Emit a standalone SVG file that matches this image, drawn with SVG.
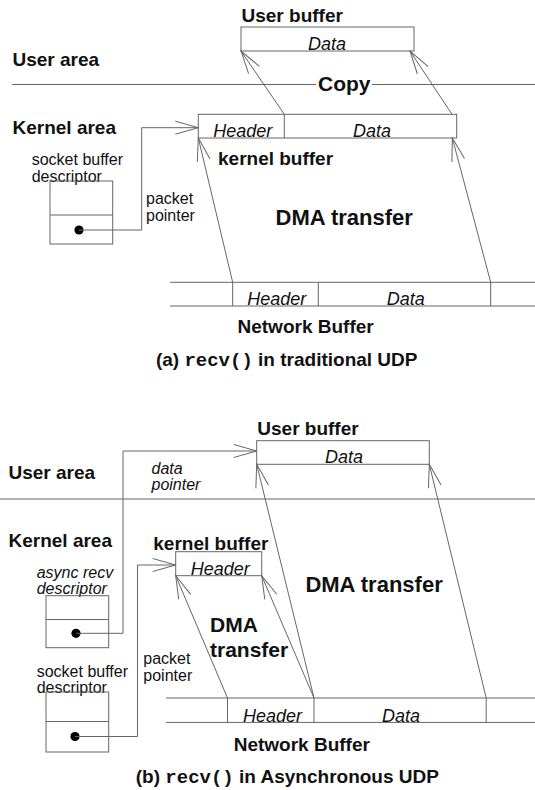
<svg xmlns="http://www.w3.org/2000/svg" width="535" height="790" viewBox="0 0 535 790">
  <style>
    .ln { fill: none; stroke: #666; stroke-width: 1; }
    .box { fill: none; stroke: #666; stroke-width: 1; }
    .area { font-family: "Liberation Sans", Arial, sans-serif; font-weight: bold; font-size: 19px; fill: #111; }
    .big { font-family: "Liberation Sans", Arial, sans-serif; font-weight: bold; font-size: 22px; fill: #111; }
    .fld { font-family: "Liberation Sans", Arial, sans-serif; font-style: italic; font-size: 18px; fill: #111; }
    .small { font-family: "Liberation Sans", Arial, sans-serif; font-size: 16px; fill: #111; }
    .smalli { font-family: "Liberation Sans", Arial, sans-serif; font-style: italic; font-size: 16px; fill: #111; }
    .cap { font-family: "Liberation Sans", Arial, sans-serif; font-weight: bold; font-size: 19px; fill: #111; }
    .mono { font-family: "Liberation Mono", "Courier New", monospace; font-weight: bold; }
    .dot { fill: #000; }
  </style>
  <defs>
    <marker id="open" markerUnits="userSpaceOnUse" markerWidth="30" markerHeight="20" viewBox="-25 -10 30 20" refX="0" refY="0" orient="auto" overflow="visible">
      <path d="M-23,-6.5 L0,0 L-23,6.5" fill="none" stroke="#666" stroke-width="1"/>
    </marker>
  </defs>
  <rect width="535" height="790" fill="#fff"/>

  <!-- (a) traditional UDP -->
  <g id="a-areas">
    <text class="area" x="12.5" y="66">User area</text>
    <text class="area" x="12.5" y="134">Kernel area</text>
    <path class="ln" d="M12,84.5 H316 M372,84.5 H535"/>
    <text class="big" x="318" y="91" style="font-size:21px">Copy</text>
  </g>
  <g id="a-user-buffer">
    <text class="area" x="241.5" y="21.5">User buffer</text>
    <rect class="box" x="241" y="27" width="173" height="24"/>
    <text class="fld" x="308" y="49.5">Data</text>
  </g>
  <g id="a-kernel-buffer">
    <rect class="box" x="198.3" y="114.3" width="258.4" height="23.7"/>
    <line class="ln" x1="284.3" y1="114.3" x2="284.3" y2="138"/>
    <text class="fld" x="213.3" y="136.5">Header</text>
    <text class="fld" x="353" y="136.5">Data</text>
    <text class="area" x="218" y="165">kernel buffer</text>
  </g>
  <g id="a-socket-desc">
    <text class="small" x="31.7" y="165">socket buffer</text>
    <text class="small" x="31.7" y="181.7">descriptor</text>
    <rect class="box" x="50" y="181" width="62.7" height="63"/>
    <line class="ln" x1="50" y1="215" x2="112.7" y2="215"/>
    <circle class="dot" cx="79" cy="230" r="4.6"/>
    <text class="small" x="146" y="204">packet</text>
    <text class="small" x="146" y="221">pointer</text>
  </g>
  <g id="a-network-buffer">
    <path class="ln" d="M170,282.3 H535 M170,306 H535 M232.7,282.3 V306 M318.3,282.3 V306 M490.7,282.3 V306"/>
    <text class="fld" x="247.3" y="305">Header</text>
    <text class="fld" x="386.7" y="304.5">Data</text>
    <text class="area" x="237.5" y="333">Network Buffer</text>
  </g>
  <text class="big" x="275.5" y="225">DMA transfer</text>
  <text class="cap" x="155.9" y="366">(a) <tspan class="mono">recv()</tspan> in traditional UDP</text>

  <!-- (b) asynchronous UDP -->
  <g id="b-areas">
    <text class="area" x="8.5" y="479">User area</text>
    <text class="area" x="8.5" y="546.5">Kernel area</text>
    <line class="ln" x1="0" y1="499" x2="535" y2="499"/>
  </g>
  <g id="b-user-buffer">
    <text class="area" x="257.3" y="435">User buffer</text>
    <rect class="box" x="256.7" y="440.7" width="172.6" height="23.6"/>
    <text class="fld" x="325" y="463">Data</text>
  </g>
  <g id="b-kernel-buffer">
    <text class="area" x="153.3" y="550">kernel buffer</text>
    <rect class="box" x="175.7" y="551.7" width="86" height="24"/>
    <text class="fld" x="190.7" y="575">Header</text>
  </g>
  <g id="b-async-desc">
    <text class="smalli" x="36.7" y="577.7">async recv</text>
    <text class="smalli" x="36.7" y="594.3">descriptor</text>
    <rect class="box" x="46" y="595.7" width="62.7" height="52"/>
    <line class="ln" x1="46" y1="619.5" x2="108.7" y2="619.5"/>
    <circle class="dot" cx="76" cy="633.3" r="4.6"/>
    <text class="smalli" x="151.5" y="474">data</text>
    <text class="smalli" x="151.5" y="490">pointer</text>
  </g>
  <g id="b-socket-desc">
    <text class="small" x="36.7" y="676.7">socket buffer</text>
    <text class="small" x="36.7" y="692.7">descriptor</text>
    <rect class="box" x="46" y="692" width="62.7" height="60"/>
    <line class="ln" x1="46" y1="721.5" x2="108.7" y2="721.5"/>
    <circle class="dot" cx="75" cy="736.5" r="4.6"/>
    <text class="small" x="143.3" y="664.3">packet</text>
    <text class="small" x="143.3" y="680.7">pointer</text>
  </g>
  <g id="b-network-buffer">
    <path class="ln" d="M166,698 H535 M166,722.4 H535 M227.5,698 V722.4 M314,698 V722.4 M486.2,698 V722.4"/>
    <text class="fld" x="243" y="721.5">Header</text>
    <text class="fld" x="382" y="721.5">Data</text>
    <text class="area" x="233.7" y="751">Network Buffer</text>
  </g>
  <text class="big" x="305.4" y="592">DMA transfer</text>
  <text class="big" x="210" y="632" style="font-size:21px">DMA</text>
  <text class="big" x="210" y="656.5" style="font-size:21px">transfer</text>
  <text class="cap" x="135.8" y="783">(b) <tspan class="mono">recv()</tspan> in Asynchronous UDP</text>

  <g id="connectors" class="ln">
    <!-- copy into the user buffer -->
    <line x1="284.3" y1="114.3" x2="241" y2="51" marker-end="url(#open)"/>
    <line x1="452" y1="114.3" x2="410" y2="51" marker-end="url(#open)"/>
    <!-- DMA into the kernel buffer -->
    <line x1="232.7" y1="282.3" x2="198.3" y2="138" marker-end="url(#open)"/>
    <line x1="490.7" y1="282.3" x2="452.3" y2="138" marker-end="url(#open)"/>
    <!-- packet pointer (a) -->
    <path d="M79,230 H141.7 V127.7 H198.3" marker-end="url(#open)"/>

    <!-- DMA header into the kernel buffer -->
    <line x1="227.5" y1="698" x2="175.7" y2="575.7" marker-end="url(#open)"/>
    <line x1="314" y1="698" x2="261.7" y2="575.7" marker-end="url(#open)"/>
    <!-- DMA data into the user buffer -->
    <line x1="314" y1="698" x2="256.7" y2="464.3" marker-end="url(#open)"/>
    <line x1="486.2" y1="698" x2="429.3" y2="464.3" marker-end="url(#open)"/>
    <!-- data pointer and packet pointer (b) -->
    <path d="M76,633.3 H123 V451 H256.7" marker-end="url(#open)"/>
    <path d="M75,736.5 H137.5 V565 H175.7" marker-end="url(#open)"/>
  </g>
</svg>
